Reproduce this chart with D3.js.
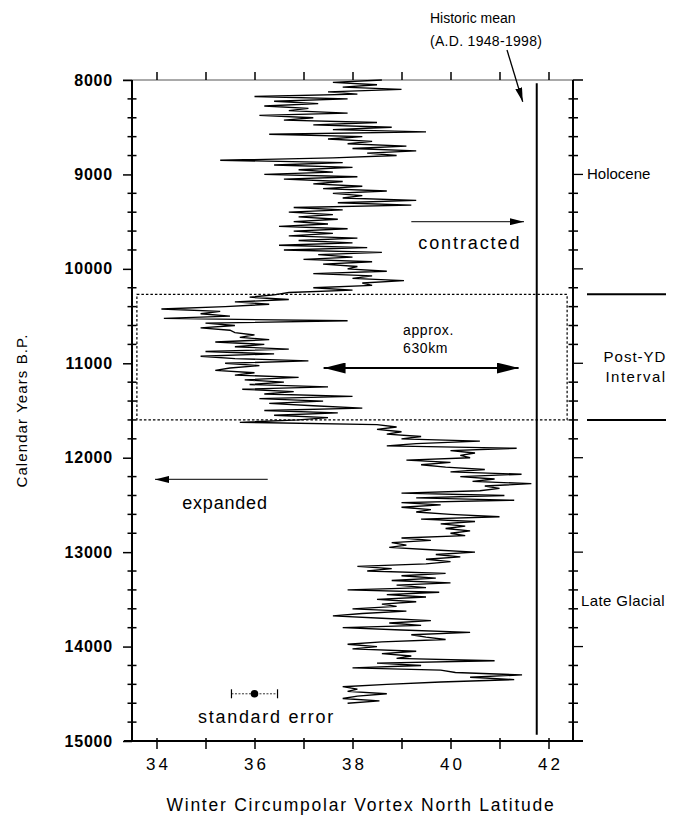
<!DOCTYPE html>
<html>
<head>
<meta charset="utf-8">
<script src="https://cdn.jsdelivr.net/npm/d3@7"></script>
<style>
  body { margin: 0; background: #fff; }
  svg { display: block; font-family: "Liberation Sans", Arial, sans-serif; }
  .curve { fill: none; stroke: #000; stroke-width: 1.35; stroke-linejoin: miter; }
</style>
</head>
<body>
<div id="chart"></div>
<script>
// [year B.P., latitude], top to bottom
const holoceneSeries = [
  [8000,38.6],[8025,37.6],[8050,38.5],[8075,37.8],[8100,39.0],[8125,37.5],[8150,38.1],[8175,36.0],
  [8200,37.9],[8225,36.4],[8250,37.3],[8275,36.2],[8300,37.1],[8325,36.7],[8350,37.9],[8375,36.1],
  [8400,37.2],[8425,36.6],[8450,38.5],[8475,37.2],[8500,38.8],[8525,37.6],[8550,39.5],[8575,36.3],
  [8600,38.2],[8625,37.5],[8650,38.4],[8675,37.9],[8700,39.1],[8725,38.0],[8750,39.3],[8775,38.3],
  [8800,38.9],[8825,37.6],[8850,35.3],[8875,37.8],[8900,36.4],[8925,38.0],[8950,36.9],[8975,37.6],
  [9000,36.2],[9025,38.1],[9050,36.6],[9075,37.8],[9100,37.2],[9125,38.2],[9150,37.4],[9175,38.7],
  [9200,37.6],[9225,38.2],[9250,37.8],[9275,39.3],[9300,37.7],[9325,39.2],[9350,36.8],[9375,37.8],
  [9400,36.7],[9425,37.6],[9450,36.9],[9475,37.7],[9500,36.8],[9525,37.5],[9550,36.5],[9575,37.9],
  [9600,36.8],[9625,37.6],[9650,36.7],[9675,38.1],[9700,36.9],[9725,38.0],[9750,36.5],[9775,38.3],
  [9800,36.6],[9825,38.6],[9850,37.3],[9875,38.0],[9900,37.0],[9925,38.4],[9950,37.4],[9975,38.1],
  [10000,37.9],[10025,38.7],[10050,37.2],[10075,38.4],[10100,38.0],[10125,39.05],[10150,38.2],[10175,38.4],
  [10200,37.2],[10225,38.0],[10250,36.7],[10275,36.4]
];
const postYDSeries = [
  [10300,35.9],[10325,36.7],[10350,35.6],[10375,36.3],[10400,35.4],[10425,34.1],[10450,35.3],[10475,34.9],
  [10500,35.5],[10525,34.15],[10550,37.9],[10575,35.0],[10600,35.6],[10625,34.9],[10650,35.5],[10675,35.6],
  [10700,36.0],[10725,35.7],[10750,36.3],[10775,35.2],[10800,36.2],[10825,35.6],[10850,36.7],[10875,35.0],
  [10900,36.4],[10925,34.9],[10950,35.6],[10975,37.1],[11000,35.4],[11025,36.1],[11050,35.5],[11075,35.2],
  [11100,36.0],[11125,35.6],[11150,36.9],[11175,35.8],[11200,36.6],[11225,35.9],[11250,37.5],[11275,35.75],
  [11300,36.8],[11325,36.2],[11350,38.0],[11375,36.1],[11400,37.4],[11425,36.3],[11450,37.2],[11475,38.2],
  [11500,36.2],[11525,37.7],[11550,36.4],[11575,37.5],[11600,36.9],[11625,35.7]
];
const lateGlacialSeries = [
  [11650,38.5],[11675,38.9],[11700,38.5],[11725,39.0],[11750,38.7],[11775,39.4],[11800,39.0],[11825,40.6],
  [11850,39.3],[11875,38.7],[11900,41.35],[11925,40.0],[11950,40.5],[11975,40.2],[12000,40.4],[12025,39.1],
  [12050,40.0],[12075,39.4],[12100,39.9],[12125,40.7],[12150,40.0],[12175,41.45],[12200,40.2],[12225,40.9],
  [12250,40.45],[12275,41.65],[12300,40.7],[12325,41.0],[12350,40.6],[12375,39.0],[12400,41.1],[12425,39.3],
  [12450,41.3],[12475,39.0],[12500,39.8],[12525,39.0],[12550,39.6],[12575,39.3],[12600,40.0],[12625,41.0],
  [12650,39.4],[12675,40.5],[12700,39.8],[12725,40.3],[12750,39.9],[12775,40.4],[12800,40.0],[12825,40.3],
  [12850,39.0],[12875,39.6],[12900,38.8],[12925,39.1],[12950,38.75],[12975,39.6],[13000,40.5],[13025,39.7],
  [13050,40.2],[13075,39.5],[13100,40.0],[13125,39.5],[13150,38.1],[13175,38.8],[13200,38.3],[13225,39.9],
  [13250,39.0],[13275,39.7],[13300,38.8],[13325,40.0],[13350,38.9],[13375,39.5],[13400,37.9],[13425,39.77],
  [13450,38.7],[13475,39.5],[13500,38.5],[13525,39.3],[13550,38.6],[13575,38.9],[13600,38.0],[13625,39.1],
  [13650,38.2],[13675,37.6],[13700,38.6],[13725,39.6],[13750,38.75],[13775,39.4],[13800,37.8],[13825,39.0],
  [13850,40.4],[13875,39.2],[13900,39.5],[13925,39.9],[13950,38.6],[13975,37.9],[14000,38.5],[14025,38.0],
  [14050,39.3],[14075,38.6],[14100,39.2],[14125,38.9],[14150,40.9],[14175,38.5],[14200,39.4],[14225,38.0],
  [14250,39.8],[14275,40.1],[14300,41.46],[14325,40.4],[14350,41.3],[14375,39.8],[14400,38.7],[14425,37.8],
  [14450,38.1],[14475,37.9],[14500,38.7],[14525,38.1],[14550,37.8],[14575,38.55],[14600,37.9]
];

const yearTicks = [8000, 9000, 10000, 11000, 12000, 13000, 14000, 15000];
const latTicks = [34, 35, 36, 37, 38, 39, 40, 41, 42];
const latLabels = [34, 36, 38, 40, 42];
const historicMean = 41.76;
const historicSpan = [8035, 14935];
const postYDBounds = [10270, 11600];
const postYDBoxLat = [33.6, 42.38];
const contractedArrow = { from: 39.2, to: 41.5, year: 9500 };
const expandedArrow = { from: 36.27, to: 33.97, year: 12230 };
const rangeArrow = { from: 37.41, to: 41.39, year: 11050 };
const stdErr = { lat: 36.0, err: 0.47, year: 14500 };

const width = 680, height = 816;
const margin = { top: 80, right: 107, bottom: 75, left: 132 };

const svg = d3.select('#chart').append('svg')
  .attr('width', width)
  .attr('height', height);

const x = d3.scaleLinear().domain([33.5, 42.5]).range([margin.left, width - margin.right]);
const y = d3.scaleLinear().domain([8000, 15000]).range([margin.top, height - margin.bottom]);

const x0 = x.range()[0], x1 = x.range()[1];
const y0 = y.range()[0], y1 = y.range()[1];

const defs = svg.append('defs');
function head(id, w, h) {
  defs.append('marker')
    .attr('id', id)
    .attr('viewBox', `0 ${-h} ${w} ${2 * h}`)
    .attr('refX', w).attr('refY', 0)
    .attr('markerWidth', w).attr('markerHeight', 2 * h)
    .attr('markerUnits', 'userSpaceOnUse')
    .attr('orient', 'auto-start-reverse')
    .append('path')
    .attr('d', `M0,${-h}L${w},0L0,${h}Z`)
    .attr('fill', '#000');
}
head('small', 14, 3.5);
head('big', 22, 5.5);

// frame
svg.append('line').attr('x1', x0 - 9).attr('x2', x1 + 10).attr('y1', y0).attr('y2', y0)
  .attr('stroke', '#555').attr('stroke-width', 1);
svg.append('line').attr('x1', x0 - 8).attr('x2', x1 + 10).attr('y1', y1).attr('y2', y1)
  .attr('stroke', '#000').attr('stroke-width', 1.8);
svg.append('line').attr('x1', x0).attr('x2', x0).attr('y1', y0).attr('y2', y1)
  .attr('stroke', '#000').attr('stroke-width', 2);
svg.append('line').attr('x1', x1).attr('x2', x1).attr('y1', y0).attr('y2', y1)
  .attr('stroke', '#000').attr('stroke-width', 2);

// left axis
const yAxisG = svg.append('g')
  .attr('transform', `translate(${x0},0)`)
  .call(d3.axisLeft(y).tickValues(yearTicks).tickSize(9).tickPadding(10).tickFormat(d3.format('d')));
yAxisG.select('.domain').remove();
yAxisG.selectAll('.tick line').attr('stroke-width', 1.5);
yAxisG.selectAll('.tick text')
  .attr('font-size', 16).attr('font-weight', 'bold').attr('letter-spacing', 0.8)
  .attr('font-family', '"Liberation Sans", Arial, sans-serif');

const minorYears = d3.range(8200, 15000, 200).filter(v => v % 1000 !== 0);
svg.append('g').selectAll('line').data(minorYears).join('line')
  .attr('x1', x0 - 4.5).attr('x2', x0 + 4.5)
  .attr('y1', d => y(d)).attr('y2', d => y(d))
  .attr('stroke', '#000').attr('stroke-width', 1.5);

// right axis
svg.append('g').selectAll('line').data(minorYears).join('line')
  .attr('x1', x1 - 4.5).attr('x2', x1 + 5)
  .attr('y1', d => y(d)).attr('y2', d => y(d))
  .attr('stroke', '#000').attr('stroke-width', 1.5);
svg.append('g').selectAll('line').data(yearTicks).join('line')
  .attr('x1', x1).attr('x2', x1 + 10)
  .attr('y1', d => y(d)).attr('y2', d => y(d))
  .attr('stroke', '#000').attr('stroke-width', 1.3);

// top and bottom axes
const topG = svg.append('g')
  .attr('transform', `translate(0,${y0})`)
  .call(d3.axisTop(x).tickValues(latTicks).tickSize(8).tickFormat(''));
topG.select('.domain').remove();
topG.selectAll('.tick line').attr('stroke-width', 1.5);

const botG = svg.append('g')
  .attr('transform', `translate(0,${y1})`)
  .call(d3.axisBottom(x).tickValues(latTicks).tickSize(8).tickPadding(9)
    .tickFormat(d => latLabels.includes(d) ? d : ''));
botG.select('.domain').remove();
botG.selectAll('.tick line').attr('stroke-width', 1.5).attr('y1', -3);
botG.selectAll('.tick text')
  .attr('font-size', 17).attr('letter-spacing', 3).attr('dx', 1.5)
  .attr('font-family', '"Liberation Sans", Arial, sans-serif');

// axis titles
svg.append('text')
  .attr('x', 361).attr('y', 811)
  .attr('text-anchor', 'middle').attr('font-size', 17.5).attr('letter-spacing', 1.75)
  .text('Winter Circumpolar Vortex North Latitude');
svg.append('text')
  .attr('transform', `translate(27,${(y0 + y1) / 2}) rotate(-90)`)
  .attr('text-anchor', 'middle').attr('font-size', 15).attr('letter-spacing', 1.1)
  .text('Calendar Years B.P.');

// post-YD box
svg.append('rect')
  .attr('x', x(postYDBoxLat[0])).attr('y', y(postYDBounds[0]))
  .attr('width', x(postYDBoxLat[1]) - x(postYDBoxLat[0]))
  .attr('height', y(postYDBounds[1]) - y(postYDBounds[0]))
  .attr('fill', 'none').attr('stroke', '#000').attr('stroke-width', 1.2)
  .attr('stroke-dasharray', '2.5,2');

// record
const series = holoceneSeries.concat(postYDSeries, lateGlacialSeries);
const line = d3.line().x(d => x(d[1])).y(d => y(d[0]));
svg.append('path').attr('class', 'curve').attr('d', line(series));

// historic mean
svg.append('line')
  .attr('x1', x(historicMean)).attr('x2', x(historicMean))
  .attr('y1', y(historicSpan[0])).attr('y2', y(historicSpan[1]))
  .attr('stroke', '#000').attr('stroke-width', 2);
svg.append('text').attr('x', 430).attr('y', 23).attr('font-size', 14).text('Historic mean');
svg.append('text').attr('x', 430).attr('y', 46).attr('font-size', 14).attr('letter-spacing', 0.3).text('(A.D. 1948-1998)');
svg.append('line')
  .attr('x1', 507).attr('y1', 50)
  .attr('x2', x(historicMean) - 14).attr('y2', y(8230))
  .attr('stroke', '#000').attr('stroke-width', 1.3)
  .attr('marker-end', 'url(#small)');

// contracted / expanded
svg.append('line')
  .attr('x1', x(contractedArrow.from)).attr('x2', x(contractedArrow.to))
  .attr('y1', y(contractedArrow.year)).attr('y2', y(contractedArrow.year))
  .attr('stroke', '#333').attr('stroke-width', 1.2).attr('marker-end', 'url(#small)');
svg.append('text')
  .attr('x', x(contractedArrow.from) + 7).attr('y', y(contractedArrow.year) + 27)
  .attr('font-size', 18).attr('letter-spacing', 1.9).text('contracted');

svg.append('line')
  .attr('x1', x(expandedArrow.from)).attr('x2', x(expandedArrow.to))
  .attr('y1', y(expandedArrow.year)).attr('y2', y(expandedArrow.year))
  .attr('stroke', '#333').attr('stroke-width', 1.2).attr('marker-end', 'url(#small)');
svg.append('text')
  .attr('x', x(expandedArrow.from)).attr('y', y(expandedArrow.year) + 29.5)
  .attr('text-anchor', 'end').attr('font-size', 18).attr('letter-spacing', 0.8)
  .text('expanded');

// range arrow
svg.append('line')
  .attr('x1', x(rangeArrow.from)).attr('x2', x(rangeArrow.to))
  .attr('y1', y(rangeArrow.year)).attr('y2', y(rangeArrow.year))
  .attr('stroke', '#000').attr('stroke-width', 2)
  .attr('marker-start', 'url(#big)').attr('marker-end', 'url(#big)');
svg.append('text').attr('x', 403).attr('y', y(rangeArrow.year) - 33).attr('font-size', 14).attr('letter-spacing', 0.6).text('approx.');
svg.append('text').attr('x', 403).attr('y', y(rangeArrow.year) - 15.5).attr('font-size', 14).attr('letter-spacing', 0.6).text('630km');

// standard error
const seY = y(stdErr.year);
svg.append('line')
  .attr('x1', x(stdErr.lat - stdErr.err)).attr('x2', x(stdErr.lat + stdErr.err))
  .attr('y1', seY).attr('y2', seY)
  .attr('stroke', '#333').attr('stroke-width', 1).attr('stroke-dasharray', '2,1.5');
svg.append('g').selectAll('line').data([stdErr.lat - stdErr.err, stdErr.lat + stdErr.err]).join('line')
  .attr('x1', d => x(d)).attr('x2', d => x(d))
  .attr('y1', seY - 4.5).attr('y2', seY + 4.5)
  .attr('stroke', '#000').attr('stroke-width', 1.2);
svg.append('circle').attr('cx', x(stdErr.lat)).attr('cy', seY).attr('r', 3.8).attr('fill', '#000');
svg.append('text')
  .attr('x', x(stdErr.lat) + 12).attr('y', seY + 29.5)
  .attr('text-anchor', 'middle').attr('font-size', 18).attr('letter-spacing', 1.7)
  .text('standard error');

// period labels on the right
svg.append('g').selectAll('line').data(postYDBounds).join('line')
  .attr('x1', x1 + 14).attr('x2', width - 14)
  .attr('y1', d => y(d)).attr('y2', d => y(d))
  .attr('stroke', '#000').attr('stroke-width', 2);
svg.append('text').attr('x', x1 + 14).attr('y', y(9000) + 5).attr('font-size', 15).text('Holocene');
svg.append('text').attr('x', 635).attr('y', 362).attr('text-anchor', 'middle').attr('font-size', 15).attr('letter-spacing', 1).text('Post-YD');
svg.append('text').attr('x', 636).attr('y', 382).attr('text-anchor', 'middle').attr('font-size', 15).attr('letter-spacing', 1.5).text('Interval');
svg.append('text').attr('x', x1 + 8).attr('y', 606).attr('font-size', 15).attr('letter-spacing', 0.4).text('Late Glacial');
</script>
</body>
</html>
